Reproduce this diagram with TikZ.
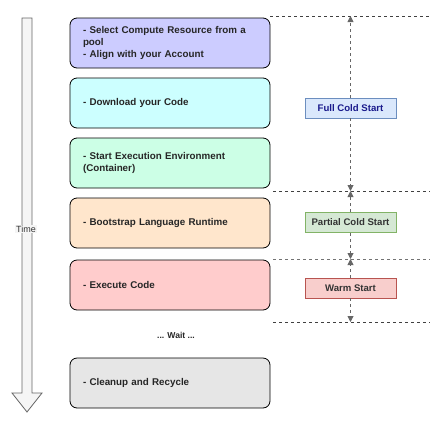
\documentclass[tikz,border=0pt]{standalone}
\usepackage{fontspec}
\setmainfont{Liberation Sans}
\usetikzlibrary{arrows.meta, positioning, calc}
\definecolor{stageBlue}  {RGB}{204,204,255}
\definecolor{stageCyan}  {RGB}{204,255,255}
\definecolor{stageMint}  {RGB}{204,255,230}
\definecolor{stagePeach} {RGB}{255,230,204}
\definecolor{stageRose}  {RGB}{255,204,204}
\definecolor{stageGrey}  {RGB}{230,230,230}
\definecolor{lblBlueFill}{RGB}{218,232,252}
\definecolor{lblBlueLine}{RGB}{108,142,191}
\definecolor{lblBlueText}{RGB}{ 26, 26,140}
\definecolor{lblGreenFill}{RGB}{213,232,212}
\definecolor{lblGreenLine}{RGB}{130,179,102}
\definecolor{lblRedFill} {RGB}{248,206,204}
\definecolor{lblRedLine} {RGB}{184, 84, 80}
\definecolor{guideGrey}  {RGB}{102,102,102}

\begin{document}
\begin{tikzpicture}[
  x=1pt, y=-1pt,
  %% Lifecycle stage box
  stage/.style={
    rectangle, rounded corners=7pt, draw=black, line width=0.8pt,
    minimum width=200pt, minimum height=50pt,
    text width=174pt, inner xsep=13pt, align=left,
    font=\fontsize{9.8}{11.8}\selectfont\bfseries, text=black!85
  },
  %% Start-type label on right
  startlbl/.style={
    rectangle, line width=0.8pt,
    minimum width=91pt, minimum height=20pt, inner sep=2pt,
    font=\fontsize{9.6}{11}\selectfont\bfseries
  },
  %% Phase boundary
  bound/.style={dashed, dash pattern=on 3pt off 3pt, line width=0.8pt, black!75},
  %% Span arrow
  span/.style={-{Triangle[length=6pt,width=6pt]}, dashed,
    dash pattern=on 3pt off 3pt, line width=0.9pt, guideGrey},
]
\useasboundingbox (0,0) rectangle (442,424);

%% ── Y positions (top to bottom) ────────────────────────────────────────────
\def\yA{43}    % Select resource
\def\yB{103}   % Download
\def\yC{163}   % Start environment
\def\yD{223}   % Bootstrap
\def\yE{285}   % Execute
\def\yF{383}   % Cleanup

%% ── TIME ARROW ──────────────────────────────────────────────────────────────
\draw[fill=black!4, draw=black!60, line width=0.8pt]
  (22,18) -- (32,18) -- (32,393) -- (42,393) -- (27,412)
  -- (12,393) -- (22,393) -- cycle;
\node[fill=black!4, inner sep=1pt, font=\fontsize{9}{10}\selectfont, text=black!80]
  (TIME) at (26,229) {Time};

%% ── STAGES ──────────────────────────────────────────────────────────────────
\node[stage, fill=stageBlue] (S1) at (170,\yA)
  {- Select Compute Resource from a\\pool\\- Align with your Account};
\node[stage, fill=stageCyan] (S2) at (170,\yB) {- Download your Code};
\node[stage, fill=stageMint] (S3) at (170,\yC)
  {- Start Execution Environment\\(Container)};
\node[stage, fill=stagePeach] (S4) at (170,\yD) {- Bootstrap Language Runtime};
\node[stage, fill=stageRose] (S5) at (170,\yE) {- Execute Code};
\node[font=\fontsize{8.6}{10}\selectfont\bfseries, text=black!85]
  (WAIT) at (176,335) {... Wait ...};
\node[stage, fill=stageGrey] (S6) at (170,\yF) {- Cleanup and Recycle};

%% ── PHASE BOUNDARIES ────────────────────────────────────────────────────────
\coordinate (b1w) at (270,16);  \coordinate (b1e) at (430,16);
\coordinate (b2w) at (273,191); \coordinate (b2e) at (430,191);
\coordinate (b3w) at (273,259); \coordinate (b3e) at (430,259);
\coordinate (b4w) at (273,322); \coordinate (b4e) at (430,322);
\draw[bound] (b1w) -- (b1e);
\draw[bound] (b2w) -- (b2e);
\draw[bound, black!55] (b3w) -- (b3e);
\draw[bound] (b4w) -- (b4e);

%% ── START TYPES ─────────────────────────────────────────────────────────────
\node[startlbl, fill=lblBlueFill, draw=lblBlueLine, text=lblBlueText]
  (FULL) at (350.5,108) {Full Cold Start};
\node[startlbl, fill=lblGreenFill, draw=lblGreenLine, text=black!80]
  (PART) at (350.5,222.5) {Partial Cold Start};
\node[startlbl, fill=lblRedFill, draw=lblRedLine, text=black!80]
  (WARM) at (350.5,288) {Warm Start};

%% ── SPANS ───────────────────────────────────────────────────────────────────
\draw[span] (FULL.north) -- (FULL.north |- b1w);
\draw[span] (FULL.south) -- (FULL.south |- b2w);
\draw[span] (PART.north) -- (PART.north |- b2w);
\draw[span] (PART.south) -- (PART.south |- b3w);
\draw[span] (WARM.north) -- (WARM.north |- b3w);
\draw[span] (WARM.south) -- (WARM.south |- b4w);

\end{tikzpicture}
\end{document}
